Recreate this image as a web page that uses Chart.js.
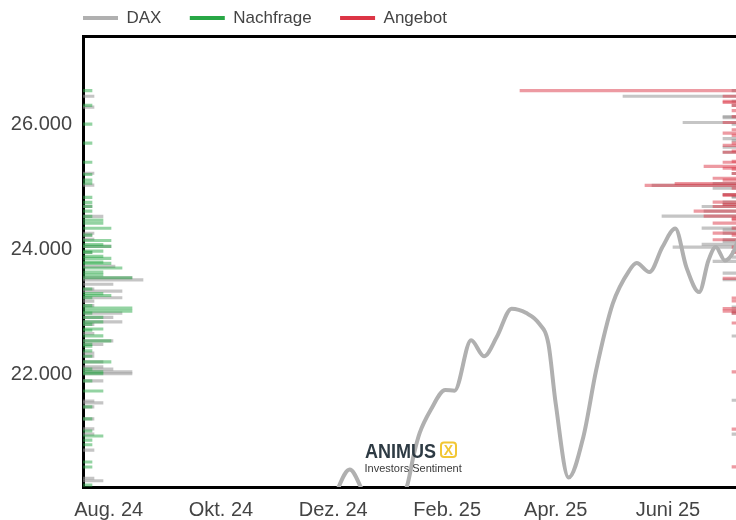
<!DOCTYPE html>
<html>
<head>
<meta charset="utf-8">
<script src="https://cdn.jsdelivr.net/npm/chart.js@4"></script>
<style>
html,body{margin:0;padding:0;background:#fff;overflow:hidden}
canvas{display:block}
</style>
</head>
<body>
<canvas id="c" width="736" height="520"></canvas>
<script>
// ---- DAX line ----
const daxDates = ['2024-07-18','2024-08-05','2024-08-30','2024-09-11','2024-09-30','2024-10-15','2024-11-06','2024-11-21',
  '2024-12-04','2024-12-10','2024-12-16','2024-12-20','2025-01-02','2025-01-10','2025-01-14','2025-01-17','2025-01-23',
  '2025-01-31','2025-02-05','2025-02-14','2025-02-21','2025-02-28','2025-03-08','2025-03-16','2025-03-23','2025-03-28',
  '2025-04-01','2025-04-08','2025-04-16','2025-04-23','2025-05-02','2025-05-11','2025-05-15','2025-05-22','2025-05-29',
  '2025-06-05','2025-06-11','2025-06-18','2025-06-23','2025-06-27','2025-07-02','2025-07-07','2025-07-10'];
const daxValues = [18350,17400,18900,18300,19300,19500,19100,19000,
  20200,20480,20200,19900,19950,20200,20740,21060,21430,
  21750,21740,22545,22290,22600,23050,22980,22810,22490,
  21530,20350,21000,22070,23130,23660,23780,23635,24035,
  24330,23715,23315,23820,24035,23820,23980,24250];

// ---- axis ticks ----
const tickDates = ['2024-08-01','2024-10-01','2024-12-01','2025-02-01','2025-04-01','2025-06-01'];
const tickLabels = ['Aug. 24','Okt. 24','Dez. 24','Feb. 25','Apr. 25','Juni 25'];
const yTicks = [22000, 24000, 26000];

// ---- Nachfrage (left, green) ----
const demandLevels = [26535,26300,26000,25695,25390,25195,25105,25055,24830,24750,24685,24610,24525,24465,24415,24335,
  24225,24140,24075,24045,23970,23950,23885,23855,23795,23775,23700,23635,23590,23545,23365,23290,23260,23225,23100,
  23060,23010,22980,22910,22840,22800,22725,22705,22615,22535,22480,22450,22375,22290,22200,22085,22040,22010,21895,
  21735,21480,21290,21095,21015,20950,20875,20600,20520,20230];
const demandVolumes = [9,9,9,9,9,9,9,9,9,9,9,9,9,20,20,28,
  9,28,20,28,20,9,20,28,20,28,39,20,20,49,9,20,28,9,9,
  49,49,9,20,20,9,20,9,20,28,9,9,9,9,28,9,20,20,9,
  20,9,9,9,20,9,9,9,9,9];
// gray on the left
const demandGrayLevels = [26445,26270,25215,25025,24685,24525,24255,24225,24160,24045,23950,23725,23545,23510,23440,23365,
  23330,23225,23170,23100,22980,22910,22840,22800,22650,22535,22480,22340,22290,22200,22120,22085,22040,22010,21895,
  21575,21545,21480,21290,21130,21045,20790,20340,20300];
const demandGrayVolumes = [11,11,11,11,9,20,11,9,11,28,9,32,49,60,30,11,
  39,39,11,11,39,30,39,11,11,30,20,11,11,20,20,30,49,49,20,
  11,20,11,11,11,11,11,11,20];

// ---- Angebot (right, red) ----
const supplyLevels = [26535,26445,26365,26345,26300,26215,26120,26025,25910,25855,25820,25695,25660,25570,25550,25405,
  25390,25325,25295,25280,25210,25135,25105,25050,25020,24975,24875,24860,24752,24715,24683,24608,24528,24492,24471,
  24417,24337,24257,24225,24152,24034,23954,23534,23220,23172,23050,23012,22980,22821,22039,21124,20522];
const supplyVolumes = [216,13,13,13,4,4,4,13,4,13,4,4,13,4,13,4,
  13,32,13,4,4,23,13,61,91,4,13,13,23,13,23,42,32,4,4,
  23,4,23,4,23,4,4,13,4,4,13,13,4,4,4,4,4];
// gray on the right
const supplyGrayLevels = [26535,26445,26365,26300,26120,26104,26025,25997,25769,25737,25630,25550,25210,25050,25020,24975,
  24875,24843,24832,24752,24715,24683,24608,24528,24337,24311,24257,24152,24125,24077,24034,23954,23874,23806,23619,
  23513,23076,23012,22980,22613,21587,21044];
const supplyGrayVolumes = [4,113,4,4,13,13,53,4,13,4,13,13,4,23,84,23,
  13,4,4,13,13,34,32,74,34,13,13,13,13,34,63,4,4,23,13,
  13,4,4,4,4,4,4];

const seriesNames = ['DAX','Nachfrage','Angebot'];
const legendColors = ['#b0b0b0','#28a745','#dc3545'];

// ---- helpers ----
const DAY0 = Date.UTC(2024, 7, 1);
function dayNum(s){ const [y,m,d] = s.split('-').map(Number); return (Date.UTC(y, m-1, d) - DAY0) / 86400000; }
function fmt(v){ return String(v).replace(/\B(?=(\d{3})+(?!\d))/g, '.'); }
const VOL_MAX = 653;
const LEGEND_GAP = '      ';

const logoPlugin = {
  id: 'logo',
  afterDatasetsDraw(chart){
    const ctx = chart.ctx;
    ctx.save();
    ctx.textBaseline = 'alphabetic';
    ctx.textAlign = 'left';
    ctx.fillStyle = '#2e3b44';
    ctx.font = 'bold 20px "Liberation Sans", Arial, sans-serif';
    ctx.save();
    ctx.translate(365, 457.5);
    ctx.scale(0.9, 1);
    ctx.fillText('ANIMUS', 0, 0);
    ctx.restore();
    ctx.strokeStyle = '#f2c734';
    ctx.lineWidth = 2;
    ctx.beginPath();
    ctx.roundRect(441, 442.5, 15, 14.5, 3);
    ctx.stroke();
    ctx.fillStyle = '#f2c734';
    ctx.font = 'bold 14px "Liberation Sans", Arial, sans-serif';
    ctx.textAlign = 'center';
    ctx.fillText('X', 448.5, 455);
    ctx.textAlign = 'left';
    ctx.fillStyle = '#3a3a3a';
    ctx.font = '11px "Liberation Sans", Arial, sans-serif';
    ctx.fillText('Investors Sentiment', 364.5, 472);
    ctx.restore();
  }
};

const barCommon = { type: 'bar', indexAxis: 'y', yAxisID: 'y', barThickness: 2.5, grouped: false, borderWidth: 0, order: 1 };

new Chart(document.getElementById('c'), {
  type: 'line',
  data: {
    datasets: [
      {
        type: 'line', label: seriesNames[0], xAxisID: 'x', yAxisID: 'y', order: 0,
        data: daxDates.map((d, i) => ({ x: dayNum(d), y: daxValues[i] })),
        borderColor: '#b0b0b0', backgroundColor: '#b0b0b0', borderWidth: 4,
        pointRadius: 0, cubicInterpolationMode: 'monotone', fill: false
      },
      Object.assign({}, barCommon, {
        label: seriesNames[1], xAxisID: 'x2',
        data: demandLevels.map((l, i) => ({ y: l, x: demandVolumes[i] })),
        backgroundColor: 'rgba(40,167,69,0.5)'
      }),
      Object.assign({}, barCommon, {
        label: seriesNames[2], xAxisID: 'x3',
        data: supplyLevels.map((l, i) => ({ y: l, x: supplyVolumes[i] })),
        backgroundColor: 'rgba(220,53,69,0.5)'
      }),
      Object.assign({}, barCommon, {
        label: 'Nachfrage grau', xAxisID: 'x2',
        data: demandGrayLevels.map((l, i) => ({ y: l, x: demandGrayVolumes[i] })),
        backgroundColor: 'rgba(150,150,150,0.55)'
      }),
      Object.assign({}, barCommon, {
        label: 'Angebot grau', xAxisID: 'x3',
        data: supplyGrayLevels.map((l, i) => ({ y: l, x: supplyGrayVolumes[i] })),
        backgroundColor: 'rgba(150,150,150,0.55)'
      })
    ]
  },
  options: {
    responsive: false,
    animation: false,
    events: [],
    layout: { padding: { top: 9.5, left: 8, right: 0, bottom: -5 } },
    plugins: {
      tooltip: { enabled: false },
      legend: {
        position: 'top',
        align: 'start',
        fullSize: false,
        labels: {
          font: { size: 17, family: '"Liberation Sans", Arial, sans-serif' },
          color: '#444',
          boxWidth: 35,
          boxHeight: 4,
          padding: 0,
          generateLabels(chart){
            const items = Chart.defaults.plugins.legend.labels.generateLabels(chart);
            return items.filter(it => it.datasetIndex < 3).map(it => {
              const c = legendColors[it.datasetIndex];
              it.fillStyle = c; it.strokeStyle = c; it.lineWidth = 0;
              it.text = seriesNames[it.datasetIndex] + (it.datasetIndex < 2 ? LEGEND_GAP : '');
              return it;
            });
          }
        }
      }
    },
    scales: {
      x: {
        type: 'linear',
        position: 'bottom',
        min: dayNum('2024-07-18'),
        max: dayNum('2025-07-08'),
        afterBuildTicks(scale){ scale.ticks = tickDates.map(d => ({ value: dayNum(d) })); },
        ticks: {
          autoSkip: false, maxRotation: 0, minRotation: 0,
          color: '#444',
          font: { size: 20, family: '"Liberation Sans", Arial, sans-serif' },
          callback: (v, i) => tickLabels[i]
        },
        grid: { display: false },
        border: { display: true, color: '#000', width: 3 }
      },
      x2: {
        type: 'linear', position: 'top', min: 0, max: VOL_MAX,
        ticks: { display: false },
        grid: { display: false, drawTicks: false },
        border: { display: true, color: '#000', width: 3 }
      },
      x3: {
        type: 'linear', position: 'top', min: 0, max: VOL_MAX, reverse: true,
        display: false
      },
      y: {
        type: 'linear', position: 'left', min: 20200, max: 27400,
        offset: false,
        afterBuildTicks(scale){ scale.ticks = yTicks.map(v => ({ value: v })); },
        afterFit(scale){ scale.width = 75; },
        ticks: {
          color: '#444',
          font: { size: 20, family: '"Liberation Sans", Arial, sans-serif' },
          callback: v => fmt(v)
        },
        grid: { display: false, offset: false },
        border: { display: true, color: '#000', width: 3 }
      }
    }
  },
  plugins: [logoPlugin]
});
</script>
</body>
</html>
